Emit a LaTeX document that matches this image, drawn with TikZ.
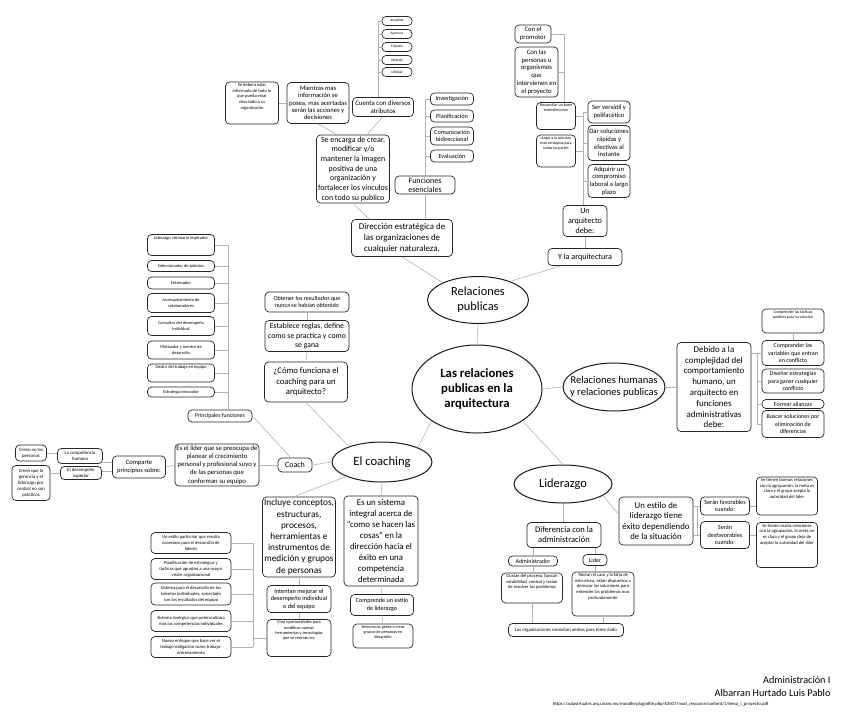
\documentclass[tikz,border=0pt]{standalone}
\usepackage{fontspec}
\setmainfont{Carlito}
\usepackage{tikz}
\usetikzlibrary{shapes.geometric}
\newcommand\topbox[3]{\parbox[c][#2pt][t]{#1pt}{\centering #3}}

\begin{document}
\begin{tikzpicture}[x=1pt, y=-1pt,
  pbox/.style={draw=black!85, rounded corners=4pt, line width=0.7pt, fill=white, inner sep=1.5pt},
  box/.style 2 args={pbox, align=center, minimum width=#1pt, minimum height=#2pt},
  oval/.style 2 args={ellipse, draw=black!90, line width=1pt, fill=white, align=center,
              inner sep=0pt, minimum width=#1pt, minimum height=#2pt},
  fs/.style 2 args={font=\fontsize{#1}{#2}\selectfont},
  lnk/.style={draw=black!30, line width=0.6pt}
]
\useasboundingbox (0,0) rectangle (848,721);

\node[oval={130}{88}, font=\fontsize{12.7}{14.6}\selectfont\bfseries] (core) at (477,389) {Las relaciones\\publicas en la\\arquitectura};
\node[oval={101}{47}, fs={12.4}{15}] (relpub) at (478,300) {Relaciones\\publicas};
\node[box={101}{37}, fs={8.9}{10.8}] (direc) at (402,238) {Dirección estratégica de\\las organizaciones de\\cualquier naturaleza.};
\node[box={70}{66}, fs={7.9}{9.7}] (encarga) at (353,169) {Se encarga de crear,\\modificar y/o\\mantener la imagen\\positiva de una\\organización y\\fortalecer los vinculos\\con todo su publico};
\node[box={62}{41}, fs={6.6}{7.3}] (mientras) at (318,103) {Mientras mas\\información se\\posea, mas acertadas\\serán las acciones y\\decisiones};
\node[pbox, fs={4.5}{5.6}] (deber) at (252,103) {\topbox{50}{39}{Se deberá estar\\informado de todo lo\\que pueda estar\\vinculado a su\\organización}};
\node[box={61}{19}, fs={6.8}{8.3}] (cuenta) at (383,107) {Cuenta con diversos\\atributos};
\node[box={30}{9}, fs={3.5}{4.2}] (ampl) at (397,21) {Amplitud};
\node[box={30}{9}, fs={3.5}{4.2}] (apert) at (397,34) {Apertura};
\node[box={30}{9}, fs={3.5}{4.2}] (empat) at (397,47) {Empatía};
\node[box={30}{9}, fs={3.5}{4.2}] (metod) at (397,60) {Método};
\node[box={30}{9}, fs={3.5}{4.2}] (util) at (397,72) {Utilidad};
\node[box={60}{18}, fs={8}{9}] (func) at (425,185) {Funciones\\esenciales};
\node[box={43}{12}, fs={6.2}{7.6}] (inves) at (452,99) {Investigación};
\node[box={43}{12}, fs={6.2}{7.6}] (plani) at (452,116) {Planificación};
\node[box={43}{18}, fs={6.2}{7.6}] (comun) at (452,136) {Comunicación\\bidireccional};
\node[box={43}{12}, fs={6.2}{7.6}] (evalu) at (452,156) {Evaluación};

\node[box={36}{18}, fs={6.7}{7.8}] (prom) at (533,34) {Con el\\promotor};
\node[box={43}{50}, fs={6.7}{7.8}] (perso) at (536.5,72) {Con las\\personas u\\organismos\\que\\intervienen en\\el proyecto};
\node[pbox, fs={4}{5}] (desar) at (556,116) {\topbox{36}{24}{Desarrollar un buen\\entendimiento}};
\node[pbox, fs={4}{5}] (lleg) at (556,151) {\topbox{36}{29}{Llegar a la solución\\mas ventajosa para\\todas las partes}};
\node[box={42}{22}, fs={6.6}{7.7}] (vers) at (609,112) {Ser versátil y\\polifacético};
\node[box={42}{35}, fs={6.6}{7.7}] (dar) at (609,143) {Dar soluciones\\rápidas y\\efectivas al\\instante};
\node[box={42}{33}, fs={6.6}{7.7}] (adq) at (609,181) {Adquirir un\\compromiso\\laboral a largo\\plazo};
\node[box={44}{31}, fs={8.1}{9.6}] (arq) at (585,221) {Un\\arquitecto\\debe:};
\node[box={74}{17}, fs={8.1}{9.6}] (yarq) at (585,257) {Y la arquitectura};

\node[box={84}{20}, fs={6.1}{7.4}] (obt) at (307,302) {Obtener los resultados que\\nunca se habían obtenido};
\node[box={84}{31}, fs={7.8}{9.6}] (regl) at (307,336) {Establece reglas, define\\como se practica y como\\se gana};
\node[box={83}{40}, fs={8.6}{10.5}] (como) at (306,382) {¿Cómo funciona el\\coaching para un\\arquitecto?};
\node[oval={100}{40}, fs={12.6}{15}] (coachg) at (382,462) {El coaching};
\node[box={34}{14}, fs={8}{9}] (coach) at (295,465) {Coach};
\node[box={83}{42}, fs={6.7}{8.2}] (esl) at (217,465) {Es el lider que se preocupa de\\planear el crecimiento\\personal y profesional suyo y\\de las personas que\\conforman su equipo};
\node[box={64}{12}, fs={5.8}{7}] (princ) at (220,416) {Principales funciones};
\node[pbox, fs={4.4}{5.6}] (pf1) at (181,245) {\topbox{64}{18}{Liderazgo visionario inspirador}};
\node[box={67}{11}, fs={4.4}{5.6}] (pf2) at (181,266) {Seleccionador de talentos};
\node[box={67}{12}, fs={4.4}{5.6}] (pf3) at (181,283) {Entrenador};
\node[box={67}{19}, fs={4.4}{5.6}] (pf4) at (181,303) {Acompañamiento de\\colaboradores};
\node[box={67}{19}, fs={4.4}{5.6}] (pf5) at (181,326) {Consultor del desempeño\\individual};
\node[box={67}{18}, fs={4.4}{5.6}] (pf6) at (181,350) {Motivador y mentor de\\desarrollo};
\node[pbox, fs={4.4}{5.6}] (pf7) at (181,373) {\topbox{64}{15}{Gestor del trabajo en equipo}};
\node[box={67}{10}, fs={4.4}{5.6}] (pf8) at (181,392) {Estratega innovador};
\node[box={53}{22}, fs={6.5}{7.6}] (comp) at (139,467) {Comparte\\principios sobre:};
\node[box={45}{15}, fs={4.8}{6}] (humana) at (80,456) {La competencia\\humana};
\node[box={41}{13}, fs={4.8}{6}] (superior) at (81,473) {El desempeño\\superior};
\node[box={31}{16}, fs={4.8}{6}] (creen1) at (31,453) {Creen en las\\personas};
\node[box={38}{35}, fs={4.8}{6}] (creen2) at (31,483) {Creen que la\\gerencia y el\\liderazgo por\\control no son\\prácticos};

\node[box={72}{80}, fs={9.3}{11.2}] (incl) at (299,537) {Incluye conceptos,\\estructuras,\\procesos,\\herramientas e\\instrumentos de\\medición y grupos\\de personas};
\node[box={74}{90}, fs={8.8}{11}] (sist) at (381,541) {Es un sistema\\integral acerca de\\“como se hacen las\\cosas” en la\\dirección hacia el\\éxito en una\\competencia\\determinada};
\node[box={63}{21}, fs={6.2}{7.6}] (compr) at (382,605) {Comprende un estilo\\de liderazgo};
\node[pbox, fs={4.2}{5.2}] (selec) at (383,636) {\topbox{57}{21}{Seleccionar gente o crear\\grupos de personas en\\desarrollo}};
\node[box={64}{27}, fs={6.3}{7.6}] (inten) at (299,599) {Intentan mejorar el\\desempeño individual\\o del equipo};
\node[pbox, fs={4.3}{5.3}] (crea) at (299,638) {\topbox{61}{34}{Crea oportunidades para\\modificar nuevas\\herramientas y tecnologías\\que se centran en:}};
\node[box={80}{21}, fs={4.6}{5.8}] (nov) at (191,543) {Un estilo particular que resulta\\novedoso para el desarrollo de\\líderes};
\node[box={80}{21}, fs={4.6}{5.8}] (plan) at (191,569) {Planificación de estrategias y\\tácticas que apuntan a una mayor\\visión organizacional};
\node[box={80}{22}, fs={4.6}{5.8}] (tal) at (191,594) {Sistema para el desarrollo de los\\talentos individuales, conectado\\con los resultados del equipo};
\node[box={80}{21}, fs={4.6}{5.8}] (sin) at (191,621) {Sistema sinérgico que potencializara\\mas las competencias individuales};
\node[box={80}{21}, fs={4.6}{5.8}] (enf) at (191,647) {Nuevo enfoque que hace ver el\\trabajo-obligación como trabajo-\\entrenamiento};

\node[oval={102}{48}, fs={10.5}{11.7}, inner xsep=-12pt] (relhum) at (614,387) {Relaciones humanas\\y relaciones publicas};
\node[box={74}{89}, fs={8.9}{10.8}] (debido) at (714,387) {Debido a la\\complejidad del\\comportamiento\\humano, un\\arquitecto en\\funciones\\administrativas\\debe:};
\node[pbox, fs={4}{5}] (tact) at (793,321) {\topbox{59}{21}{Comprender las tácticas\\posibles para su solución}};
\node[box={62}{25}, fs={6}{7.3}] (vari) at (793,353) {Comprender las\\variables que entran\\en conflicto};
\node[box={62}{24}, fs={6}{7.3}] (dise) at (793,381) {Diseñar estrategias\\para ganar cualquier\\conflicto};
\node[box={62}{9}, fs={6}{7.3}] (alian) at (793,404) {Formar alianzas};
\node[box={62}{27}, fs={6}{7.3}] (busc) at (793,424) {Buscar soluciones por\\eliminación de\\diferencias};

\node[oval={98}{38}, fs={12.4}{15}] (lidz) at (563,484) {Liderazgo};
\node[box={74}{25}, fs={8.6}{10}] (dif) at (564,535) {Diferencia con la\\administración};
\node[box={74}{48}, fs={8.8}{10.2}] (estilo) at (656,521) {Un estilo de\\liderazgo tiene\\éxito dependiendo\\de la situación};
\node[box={49}{18}, fs={6.2}{7.4}] (fav) at (725,506) {Serán favorables\\cuando:};
\node[box={49}{27}, fs={6.2}{7.4}] (desf) at (725,535) {Serán\\desfavorables\\cuando:};
\node[pbox, fs={4.6}{5.6}] (buenas) at (787,496) {\topbox{58}{35}{Se tienen buenas relaciones\\con la agrupación, la meta es\\clara y el grupo acepta la\\autoridad del líder}};
\node[pbox, fs={4.6}{5.6}] (malas) at (787,545) {\topbox{58}{42}{Se tienen malas relaciones\\con la agrupación, la meta no\\es clara y el grupo deja de\\aceptar la autoridad del líder}};
\node[box={49}{10}, fs={6}{7}] (admin) at (533,561) {Administrador};
\node[box={24}{11}, fs={6}{7}] (lid) at (595,560) {Lider};
\node[pbox, fs={4.6}{5.6}] (gust) at (532,588) {\topbox{58}{27}{Gustan del proceso, buscan\\estabilidad, control y tratan\\de resolver los problemas}};
\node[pbox, fs={4.6}{5.6}] (toler) at (603,594) {\topbox{59}{41}{Toleran el caos y la falta de\\estructura, están dispuestos a\\demorar las soluciones para\\entender los problemas mas\\profundamente}};
\node[box={115}{13}, fs={4.8}{5.8}] (orgs) at (566,630) {Las organizaciones necesitan ambos para tener éxito};

\node[anchor=east, align=right, fs={10.2}{13}] (firma) at (834,686) {Administración I\\Albarran Hurtado Luis Pablo};
\node[anchor=east, fs={4.7}{5.6}] (fuente) at (772,704) {https://aulavirtuales.arq.unam.mx/moodle/pluginfile.php/63507/mod\_resource/content/1/tema\_i\_proyecto.pdf};

\coordinate (atbus) at (378,0);
\coordinate (arbus) at (583,0);
\coordinate (prbus) at (564,0);
\coordinate (dbus) at (757,0);
\coordinate (ebus) at (697,0);
\coordinate (pfbus) at (228,0);
\coordinate (cbus) at (253,0);

\draw[lnk] (deber) -- (mientras);
\draw[lnk] (mientras.south) -- (encarga.115);
\draw[lnk] (cuenta.south) -- (encarga.68);
\draw[lnk] (ampl.west -| atbus) -- (cuenta.north -| atbus);
\draw[lnk] (ampl.west) -- (ampl.west -| atbus);
\draw[lnk] (apert.west) -- (apert.west -| atbus);
\draw[lnk] (empat.west) -- (empat.west -| atbus);
\draw[lnk] (metod.west) -- (metod.west -| atbus);
\draw[lnk] (util.west) -- (util.west -| atbus);
\draw[lnk] (inves.west -| func.north) -- (func.north);
\draw[lnk] (inves.west) -- (inves.west -| func.north);
\draw[lnk] (plani.west) -- (plani.west -| func.north);
\draw[lnk] (comun.west) -- (comun.west -| func.north);
\draw[lnk] (evalu.west) -- (evalu.west -| func.north);
\draw[lnk] (encarga.south) -- (direc.150);
\draw[lnk] (func.south) -- (func.south |- direc.north);
\draw[lnk] (direc.south) -- (relpub.154);
\draw[lnk] (relpub.south) -- (core.north);
\draw[lnk] (yarq.200) -- (relpub.30);
\draw[lnk] (arq.south) -- (yarq.north);
\draw[lnk] (vers.west -| arbus) -- (arq.north -| arbus);
\draw[lnk] (vers.west) -- (vers.west -| arbus);
\draw[lnk] (dar.west) -- (dar.west -| arbus);
\draw[lnk] (adq.west) -- (adq.west -| arbus);
\draw[lnk] (desar.east) -- (desar.east -| arbus);
\draw[lnk] (lleg.east) -- (lleg.east -| arbus);
\draw[lnk] (prom.east -| prbus) -- (desar.north -| prbus);
\draw[lnk] (prom.east) -- (prom.east -| prbus);
\draw[lnk] (perso.east) -- (perso.east -| prbus);

\draw[lnk] (core.east) -- (relhum.west);
\draw[lnk] (relhum.east) -- (debido.west);
\draw[lnk] (vari.west -| dbus) -- (busc.west -| dbus);
\draw[lnk] (vari.west -| debido.east) -- (vari.west);
\draw[lnk] (dise.west -| dbus) -- (dise.west);
\draw[lnk] (alian.west -| dbus) -- (alian.west);
\draw[lnk] (busc.west -| dbus) -- (busc.west);
\draw[lnk] (tact.south) -- (vari.north);

\draw[lnk] (core.-35) -- (lidz.north);
\draw[lnk] (lidz.south) -- (lidz.south |- dif.north);
\draw[lnk] (lidz.-16) -- (estilo.170);
\draw[lnk] (fav.west -| ebus) -- (desf.west -| ebus);
\draw[lnk] (fav.west -| estilo.east) -- (fav.west);
\draw[lnk] (desf.west -| estilo.east) -- (desf.west);
\draw[lnk] (fav.east) -- (fav.east -| buenas.west);
\draw[lnk] (desf.east) -- (desf.east -| malas.west);
\draw[lnk] (admin.north) -- (admin.north |- dif.south);
\draw[lnk] (lid.north) -- (lid.north |- dif.south);
\draw[lnk] (admin.south) -- (admin.south |- gust.north);
\draw[lnk] (lid.south) -- (lid.south |- toler.north);
\draw[lnk] (gust.south) -- (gust.south |- orgs.north);
\draw[lnk] (toler.south) -- (toler.south |- orgs.north);

\draw[lnk] (core.215) -- (coachg.22);
\draw[lnk] (obt.south) -- (regl.north);
\draw[lnk] (regl.south) -- (como.north);
\draw[lnk] (como.south) -- (coachg.155);
\draw[lnk] (coach.east) -- (coachg.west);
\draw[lnk] (esl.east) -- (coach.west);
\draw[lnk] (princ.east) -- (coach.120);
\draw[lnk] (pf1.east -| pfbus) -- (princ.north -| pfbus);
\draw[lnk] (pf1.east) -- (pf1.east -| pfbus);
\draw[lnk] (pf2.east) -- (pf2.east -| pfbus);
\draw[lnk] (pf3.east) -- (pf3.east -| pfbus);
\draw[lnk] (pf4.east) -- (pf4.east -| pfbus);
\draw[lnk] (pf5.east) -- (pf5.east -| pfbus);
\draw[lnk] (pf6.east) -- (pf6.east -| pfbus);
\draw[lnk] (pf7.east) -- (pf7.east -| pfbus);
\draw[lnk] (pf8.east) -- (pf8.east -| pfbus);
\draw[lnk] (comp.east) -- (esl.west);
\draw[lnk] (comp.170) -- (comp.170 -| humana.east);
\draw[lnk] (comp.190) -- (comp.190 -| superior.east);
\draw[lnk] (creen1.east) -- (creen1.east -| humana.west);
\draw[lnk] (superior.west) -- (superior.west -| creen2.east);
\draw[lnk] (coachg.south) -- (sist.north);
\draw[lnk] (coachg.202) -- (incl.97);
\draw[lnk] (incl.south) -- (inten.north);
\draw[lnk] (inten.south) -- (crea.north);
\draw[lnk] (sist.south) -- (compr.north);
\draw[lnk] (compr.south) -- (selec.north);
\draw[lnk] (nov.east -| cbus) -- (enf.east -| cbus);
\draw[lnk] (nov.east) -- (nov.east -| cbus);
\draw[lnk] (plan.east) -- (plan.east -| cbus);
\draw[lnk] (tal.east) -- (tal.east -| cbus);
\draw[lnk] (sin.east) -- (sin.east -| cbus);
\draw[lnk] (enf.east) -- (enf.east -| cbus);
\draw[lnk] (crea.west -| cbus) -- (crea.west);
\end{tikzpicture}
\end{document}
